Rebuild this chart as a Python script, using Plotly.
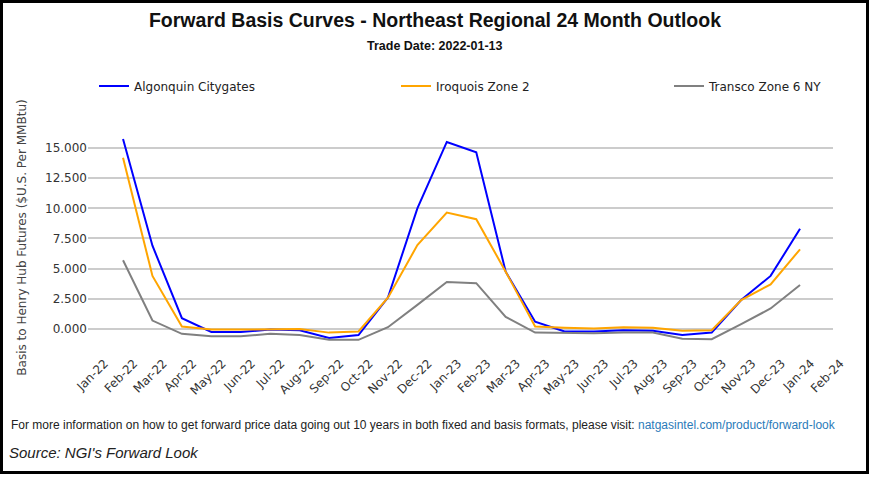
import plotly.graph_objects as go

months = ["Jan-22", "Feb-22", "Mar-22", "Apr-22", "May-22", "Jun-22", "Jul-22", "Aug-22",
          "Sep-22", "Oct-22", "Nov-22", "Dec-22", "Jan-23", "Feb-23", "Mar-23", "Apr-23",
          "May-23", "Jun-23", "Jul-23", "Aug-23", "Sep-23", "Oct-23", "Nov-23", "Dec-23",
          "Jan-24", "Feb-24"]
data_months = months[1:25]

algonquin = [15.75, 6.9, 0.9, -0.25, -0.25, -0.05, -0.1, -0.75, -0.5, 2.6, 10.0, 15.5,
             14.65, 4.75, 0.6, -0.2, -0.2, -0.1, -0.15, -0.5, -0.3, 2.4, 4.4, 8.3]
iroquois = [14.2, 4.4, 0.2, -0.05, -0.05, 0.0, 0.0, -0.3, -0.2, 2.6, 6.95, 9.65,
            9.1, 4.75, 0.2, 0.1, 0.05, 0.15, 0.1, -0.15, -0.1, 2.4, 3.7, 6.6]
transco = [5.7, 0.7, -0.4, -0.6, -0.6, -0.4, -0.5, -0.9, -0.9, 0.15, 2.0, 3.9,
           3.8, 1.0, -0.3, -0.35, -0.35, -0.3, -0.3, -0.8, -0.85, 0.4, 1.7, 3.65]
y_ticks = [0, 2.5, 5, 7.5, 10, 12.5, 15]

# layout geometry (pixels)
W, H = 870, 480
L, R, T, B = 88, 833, 130, 345

def px(x):
    return (x - L) / (R - L)

def py(y):
    return (B - y) / (B - T)

fig = go.Figure()
series = [("Algonquin Citygates", algonquin, "#0000ff", "legend"),
          ("Iroquois Zone 2", iroquois, "#ffa500", "legend2"),
          ("Transco Zone 6 NY", transco, "#808080", "legend3")]
for name, vals, col, lg in series:
    fig.add_trace(go.Scatter(x=data_months, y=vals, mode="lines", name=name,
                             line=dict(color=col, width=2), legend=lg, showlegend=True))

legend_font = dict(family="DejaVu Sans", size=12, color="#222222")
leg_common = dict(orientation="h", yanchor="middle", xanchor="left",
                  xref="container", yref="container", y=1 - 86 / H,
                  font=legend_font, bgcolor="rgba(0,0,0,0)", borderwidth=0)

fig.update_layout(
    width=W, height=H, showlegend=True,
    margin=dict(l=L, r=W - R, t=T, b=H - B, autoexpand=False),
    paper_bgcolor="white", plot_bgcolor="white",
    title=dict(text="<b>Forward Basis Curves - Northeast Regional 24 Month Outlook</b>",
               x=0.5, xref="container", xanchor="center",
               y=1 - 20 / H, yref="container", yanchor="middle",
               font=dict(family="Liberation Sans", size=19.5, color="#111111")),
    legend=dict(x=(134 - 40) / W, **leg_common),
    legend2=dict(x=(436 - 40) / W, **leg_common),
    legend3=dict(x=(709 - 40) / W, **leg_common),
    xaxis=dict(type="category", categoryorder="array", categoryarray=months,
               range=[-0.19, 25.12], tickangle=-45, showgrid=False, zeroline=False,
               showline=False, ticks="", automargin=False,
               ticklabelshift=11, ticklabelstandoff=8,
               tickfont=dict(family="DejaVu Sans", size=12, color="#333333")),
    yaxis=dict(range=[-1.326, 16.49], tickvals=y_ticks, tickformat=".3f",
               showgrid=True, gridcolor="#cccccc", gridwidth=1.5, zeroline=False,
               showline=False, ticks="", automargin=False,
               tickfont=dict(family="DejaVu Sans", size=12, color="#333333"),
               title=dict(text="Basis to Henry Hub Futures ($U.S. Per MMBtu)",
                          font=dict(family="DejaVu Sans", size=12, color="#444444"),
                          standoff=15)),
    annotations=[
        dict(text="<b>Trade Date: 2022-01-13</b>", xref="paper", yref="paper",
             x=px(435), y=py(46), xanchor="center", yanchor="middle", showarrow=False,
             font=dict(family="Liberation Sans", size=12.5, color="#111111")),
        dict(text="For more information on how to get forward price data going out 10 years in both fixed and basis formats, please visit: "
                  "<span style='color:#2b7bb9'>natgasintel.com/product/forward-look</span>",
             xref="paper", yref="paper", x=px(9), y=py(425), xanchor="left", yanchor="middle",
             showarrow=False, font=dict(family="Liberation Sans", size=12, color="#222222")),
        dict(text="<i>Source: NGI's Forward Look</i>", xref="paper", yref="paper",
             x=px(7), y=py(452), xanchor="left", yanchor="middle", showarrow=False,
             font=dict(family="Liberation Sans", size=15, color="#222222")),
    ],
    shapes=[dict(type="rect", xref="paper", yref="paper",
                 x0=px(1.5), x1=px(867.5), y0=py(1.5), y1=py(472.5),
                 line=dict(color="black", width=3), layer="above")],
)

fig.write_html("out.html", config={"displayModeBar": False},
               post_script="document.body.style.margin='0';document.body.style.padding='0';"
                           "document.body.style.overflow='hidden';")
